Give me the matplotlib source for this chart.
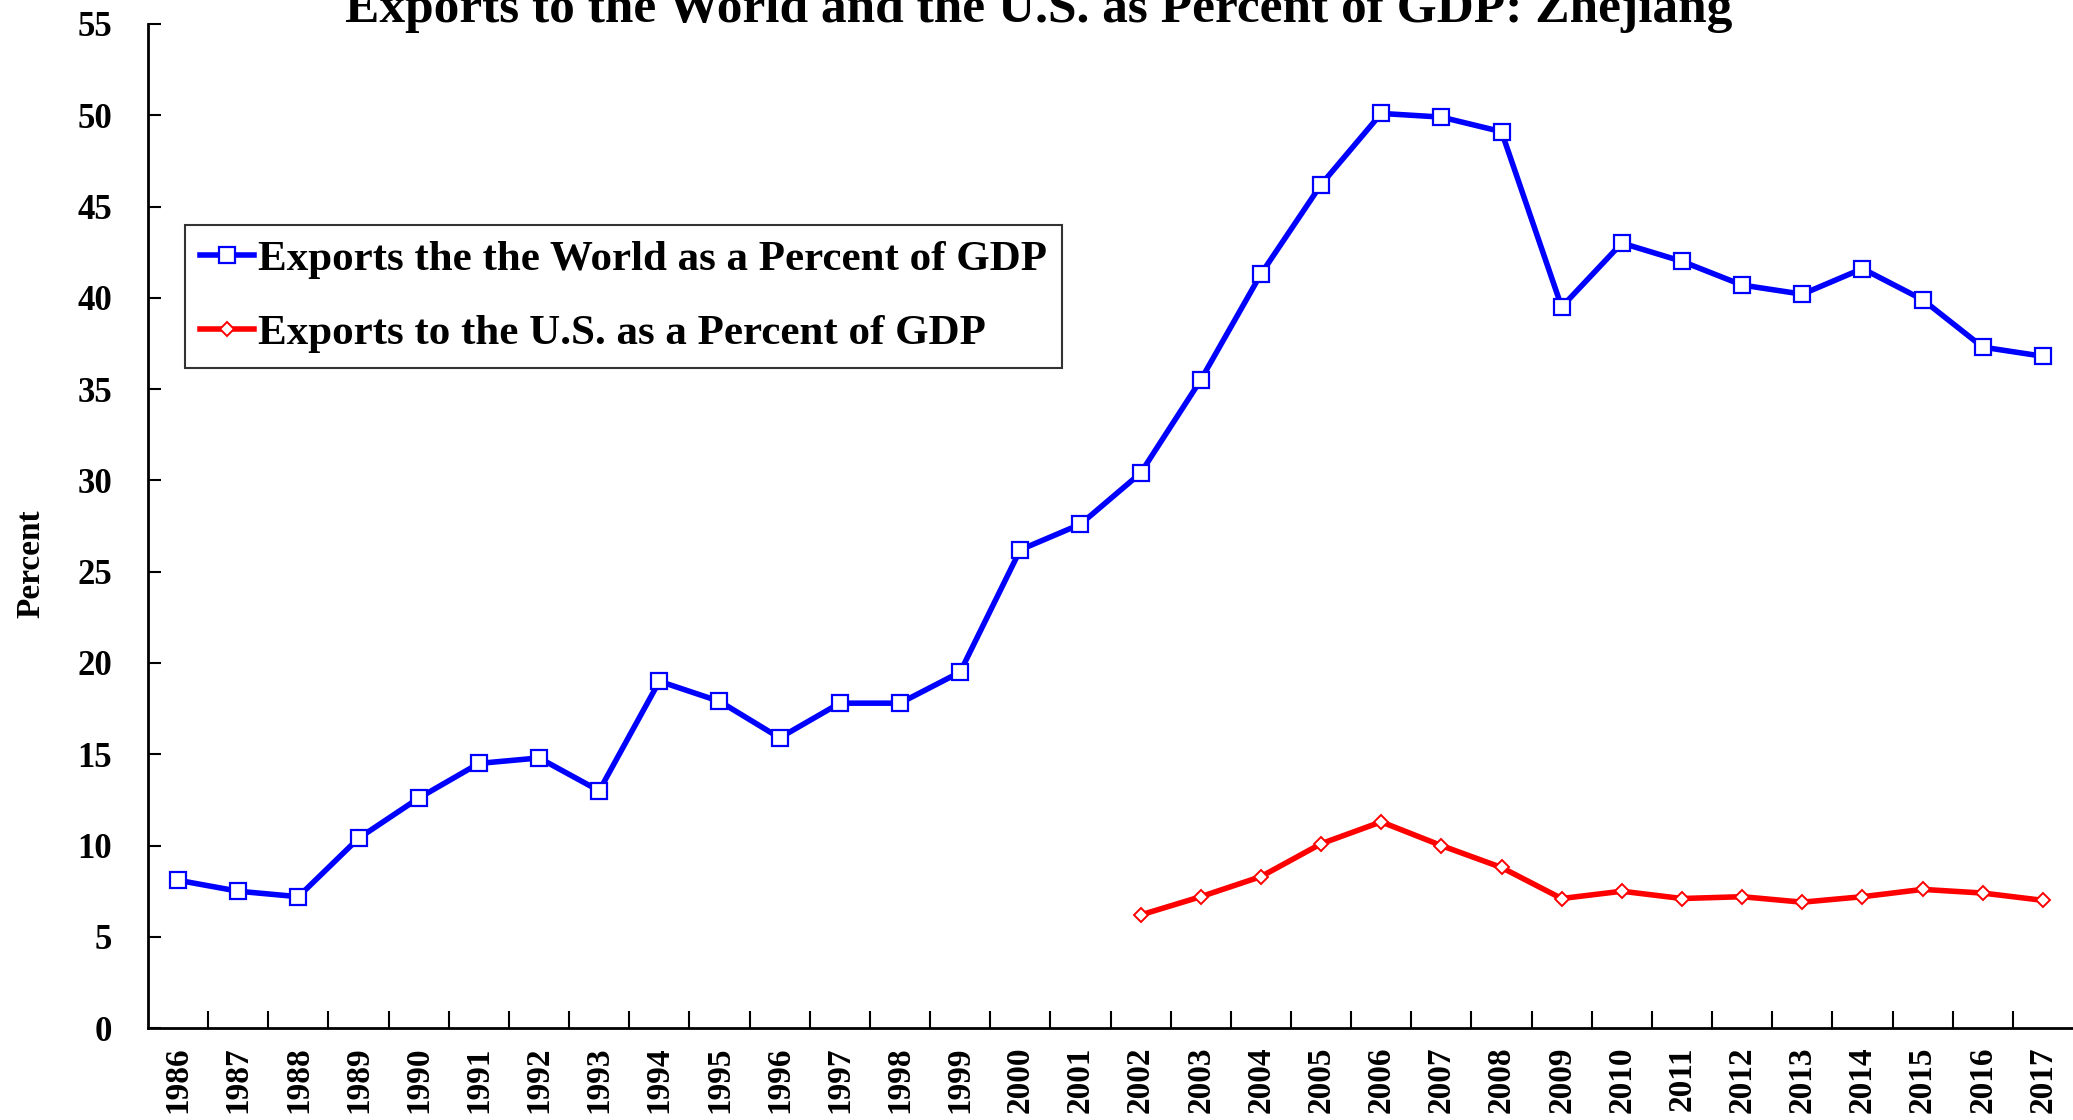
import numpy as np
import matplotlib.pyplot as plt

years = [str(y) for y in range(1986, 2018)]

# exports to the world, % of GDP, 1986-2017
world = [8.1, 7.5, 7.2, 10.4, 12.6, 14.5, 14.8, 13.0, 19.0, 17.9,
         15.9, 17.8, 17.8, 19.5, 26.2, 27.6, 30.4, 35.5, 41.3, 46.2,
         50.1, 49.9, 49.1, 39.5, 43.0, 42.0, 40.7, 40.2, 41.6, 39.9,
         37.3, 36.8]

# exports to the U.S., % of GDP, 2002-2017
us_years = [str(y) for y in range(2002, 2018)]
us = [6.2, 7.2, 8.3, 10.1, 11.3, 10.0, 8.8, 7.1, 7.5, 7.1,
      7.2, 6.9, 7.2, 7.6, 7.4, 7.0]

plt.rcParams['font.family'] = ['Liberation Serif', 'DejaVu Serif']
plt.rcParams['font.weight'] = 'bold'

fig = plt.figure(figsize=(20.73, 11.2), dpi=100)
ax = fig.add_axes([0.0714, 0.082, 0.9286, 0.8966])

x = np.arange(len(years))
xu = np.array([years.index(y) for y in us_years])

ax.plot(x, world, color='#0000ff', lw=4, marker='s', ms=11,
        mfc='white', mec='#0000ff', mew=1.6,
        label='Exports the the World as a Percent of GDP')
ax.plot(xu, us, color='#ff0000', lw=4, marker='D', ms=7,
        mfc='white', mec='#ff0000', mew=1.4,
        label='Exports to the U.S. as a Percent of GDP')

ax.set_xlim(-0.5, len(years) - 0.5)
ax.set_ylim(0, 55)
ax.set_yticks(range(0, 56, 5))
ax.tick_params(axis='y', direction='in', length=9, width=1.5,
               labelsize=25, pad=26)
ax.set_xticks(x)
ax.set_xticklabels(years, rotation=90, fontsize=24)
ax.tick_params(axis='x', which='major', length=0, pad=13)
ax.set_xticks(np.arange(0.5, len(years) - 0.5, 1), minor=True)
ax.tick_params(axis='x', which='minor', direction='in', length=12, width=1.5)

for s in ['top', 'right']:
    ax.spines[s].set_visible(False)
for s in ['left', 'bottom']:
    ax.spines[s].set_linewidth(2)

ax.set_ylabel('Percent', fontsize=24, fontweight='bold')
ax.yaxis.set_label_coords(-0.053, 0.463)

fig.text(0.501, 1 - 22 / 1120, 'Exports to the World and the U.S. as Percent of GDP: Zhejiang',
         ha='center', va='baseline', fontsize=37, fontweight='bold')

leg = ax.legend(loc='upper left', bbox_to_anchor=(0.0192, 0.80),
                fontsize=31, frameon=True, fancybox=False, edgecolor='black',
                handlelength=1.25, handletextpad=0.1, borderpad=0.35,
                labelspacing=0.8, borderaxespad=0)
leg.get_frame().set_linewidth(1.5)

fig.savefig('out.png', dpi=100)
